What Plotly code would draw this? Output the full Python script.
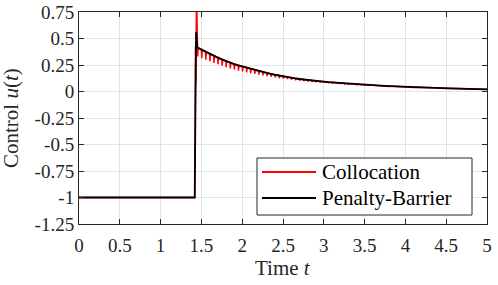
import plotly.graph_objects as go

# ---- data ----
# Penalty-Barrier (black): flat, jump and decay
pb_jump_t = [0.0, 1.418, 1.435, 1.445]
pb_jump_u = [-1.0, -1.0, 0.56, 0.415]

node_t = [1.45, 1.50, 1.55, 1.60, 1.65, 1.70, 1.75, 1.80, 1.85, 1.90, 1.95,
          2.00, 2.05, 2.10, 2.15, 2.20, 2.25, 2.30, 2.35, 2.40, 2.45,
          2.50, 2.55, 2.60, 2.65, 2.70, 2.75, 2.80, 2.85, 2.90, 2.95,
          3.00, 3.05, 3.10, 3.15, 3.20, 3.25, 3.30, 3.35, 3.40, 3.45,
          3.50, 3.55, 3.60, 3.65, 3.70, 3.75, 3.80, 3.85, 3.90, 3.95,
          4.00, 4.05, 4.10, 4.15, 4.20, 4.25, 4.30, 4.35, 4.40, 4.45,
          4.50, 4.55, 4.60, 4.65, 4.70, 4.75, 4.80, 4.85, 4.90, 4.95, 5.00]
pb_u = [0.415, 0.395, 0.375, 0.355, 0.337, 0.320, 0.303, 0.287, 0.272, 0.259, 0.247,
        0.236, 0.225, 0.214, 0.203, 0.193, 0.183, 0.174, 0.166, 0.158, 0.150,
        0.143, 0.136, 0.129, 0.123, 0.118, 0.113, 0.108, 0.104, 0.100, 0.096,
        0.093, 0.089, 0.086, 0.083, 0.080, 0.077, 0.074, 0.071, 0.069, 0.066,
        0.064, 0.062, 0.059, 0.057, 0.055, 0.053, 0.051, 0.049, 0.047, 0.045,
        0.043, 0.042, 0.040, 0.039, 0.037, 0.036, 0.035, 0.033, 0.032, 0.031,
        0.030, 0.029, 0.028, 0.027, 0.026, 0.025, 0.024, 0.023, 0.022, 0.021, 0.020]

# Collocation (red): jump with spikes, then saw-tooth dips at each node
col_jump_t = [0.0, 1.420, 1.427, 1.432, 1.440, 1.447]
col_jump_u = [-1.0, -1.0, 0.42, 0.08, 0.95, 0.33]
col_low = [0.330, 0.315, 0.300, 0.285, 0.270, 0.257, 0.243, 0.230, 0.218, 0.207, 0.197,
           0.188, 0.181, 0.173, 0.165, 0.158, 0.151, 0.145, 0.139, 0.133, 0.127,
           0.122, 0.117, 0.111, 0.106, 0.102, 0.098, 0.094, 0.091, 0.088, 0.085,
           0.083, 0.080, 0.077, 0.075, 0.072, 0.070, 0.067, 0.065, 0.063, 0.061,
           0.059, 0.057, 0.055, 0.053, 0.051, 0.050, 0.048, 0.046, 0.044, 0.043,
           0.041, 0.040, 0.038, 0.037, 0.035, 0.034, 0.033, 0.032, 0.031, 0.030,
           0.029, 0.028, 0.027, 0.026, 0.025, 0.024, 0.023, 0.022, 0.021, 0.020, 0.019]

series_names = ["Collocation", "Penalty-Barrier"]
series_colors = ["#ff0000", "#000000"]

x_ticks = [0, 0.5, 1, 1.5, 2, 2.5, 3, 3.5, 4, 4.5, 5]
x_labels = ["0", "0.5", "1", "1.5", "2", "2.5", "3", "3.5", "4", "4.5", "5"]
y_ticks = [-1.25, -1, -0.75, -0.5, -0.25, 0, 0.25, 0.5, 0.75]
y_labels = ["-1.25", "-1", "-0.75", "-0.5", "-0.25", "0", "0.25", "0.5", "0.75"]

# ---- build line paths ----
pb_t = pb_jump_t + node_t
pb_all = pb_jump_u + pb_u

col_t = list(col_jump_t)
col_u = list(col_jump_u)
for t, top, low in zip(node_t, pb_u, col_low):
    col_t += [t, t + 0.004, t + 0.011]
    col_u += [top, low, top]

FONT = "Liberation Serif, Times New Roman, serif"
AX = "#262626"
W, H = 498, 285
ML, MR, MT, MB = 79, 11, 12, 61
PW, PH = W - ML - MR, H - MT - MB


def px(xp):
    return (xp - ML) / PW


def py(yp):
    return (H - MB - yp) / PH


fig = go.Figure()
fig.add_trace(go.Scatter(x=col_t, y=col_u, mode="lines", name=series_names[0],
                         showlegend=False, line=dict(color=series_colors[0], width=1.5)))
fig.add_trace(go.Scatter(x=pb_t, y=pb_all, mode="lines", name=series_names[1],
                         showlegend=False, line=dict(color=series_colors[1], width=1.8)))

axis_common = dict(showline=True, linecolor=AX, linewidth=1, mirror="ticks",
                   ticks="inside", ticklen=5, tickcolor=AX, tickwidth=1,
                   showgrid=True, gridcolor="#e3e3e3", gridwidth=1,
                   zeroline=False, automargin=False,
                   tickfont=dict(family=FONT, size=19, color="#262626"))

fig.update_xaxes(range=[0, 5], tickvals=x_ticks, ticktext=x_labels,
                 ticklabelstandoff=4, **axis_common)
fig.update_yaxes(range=[-1.25, 0.75], tickvals=y_ticks, ticktext=y_labels, **axis_common)

# ---- legend box (drawn in paper coordinates) ----
shapes = [dict(type="rect", xref="paper", yref="paper",
               x0=px(257), x1=px(472), y0=py(215), y1=py(158),
               line=dict(color=AX, width=1), fillcolor="white", layer="above")]
annotations = []
for i, (nm, colr) in enumerate(zip(series_names, series_colors)):
    yrow = 172 + 26 * i
    shapes.append(dict(type="line", xref="paper", yref="paper",
                       x0=px(262), x1=px(316), y0=py(yrow), y1=py(yrow),
                       line=dict(color=colr, width=1.8), layer="above"))
    annotations.append(dict(text=nm, x=px(320), y=py(yrow), xref="paper", yref="paper",
                            xanchor="left", yanchor="middle", showarrow=False,
                            font=dict(family=FONT, size=21, color="#000000")))

annotations += [
    dict(text="Time <i>t</i>", x=0.5, y=0, xref="paper", yref="paper",
         xanchor="center", yanchor="middle", yshift=-44, showarrow=False,
         font=dict(family=FONT, size=21, color="#262626")),
    dict(text="Control <i>u</i>(<i>t</i>)", x=0, y=0.5, xref="paper", yref="paper",
         xanchor="center", yanchor="middle", xshift=-68, textangle=-90, showarrow=False,
         font=dict(family=FONT, size=21, color="#262626")),
]

fig.update_layout(
    width=W, height=H,
    margin=dict(l=ML, r=MR, t=MT, b=MB),
    plot_bgcolor="white", paper_bgcolor="white",
    font=dict(family=FONT, color="#262626"),
    showlegend=False,
    shapes=shapes,
    annotations=annotations,
)

fig.write_html("out.html", config={"displayModeBar": False},
               post_script="document.body.style.margin='0';document.body.style.padding='0';")
